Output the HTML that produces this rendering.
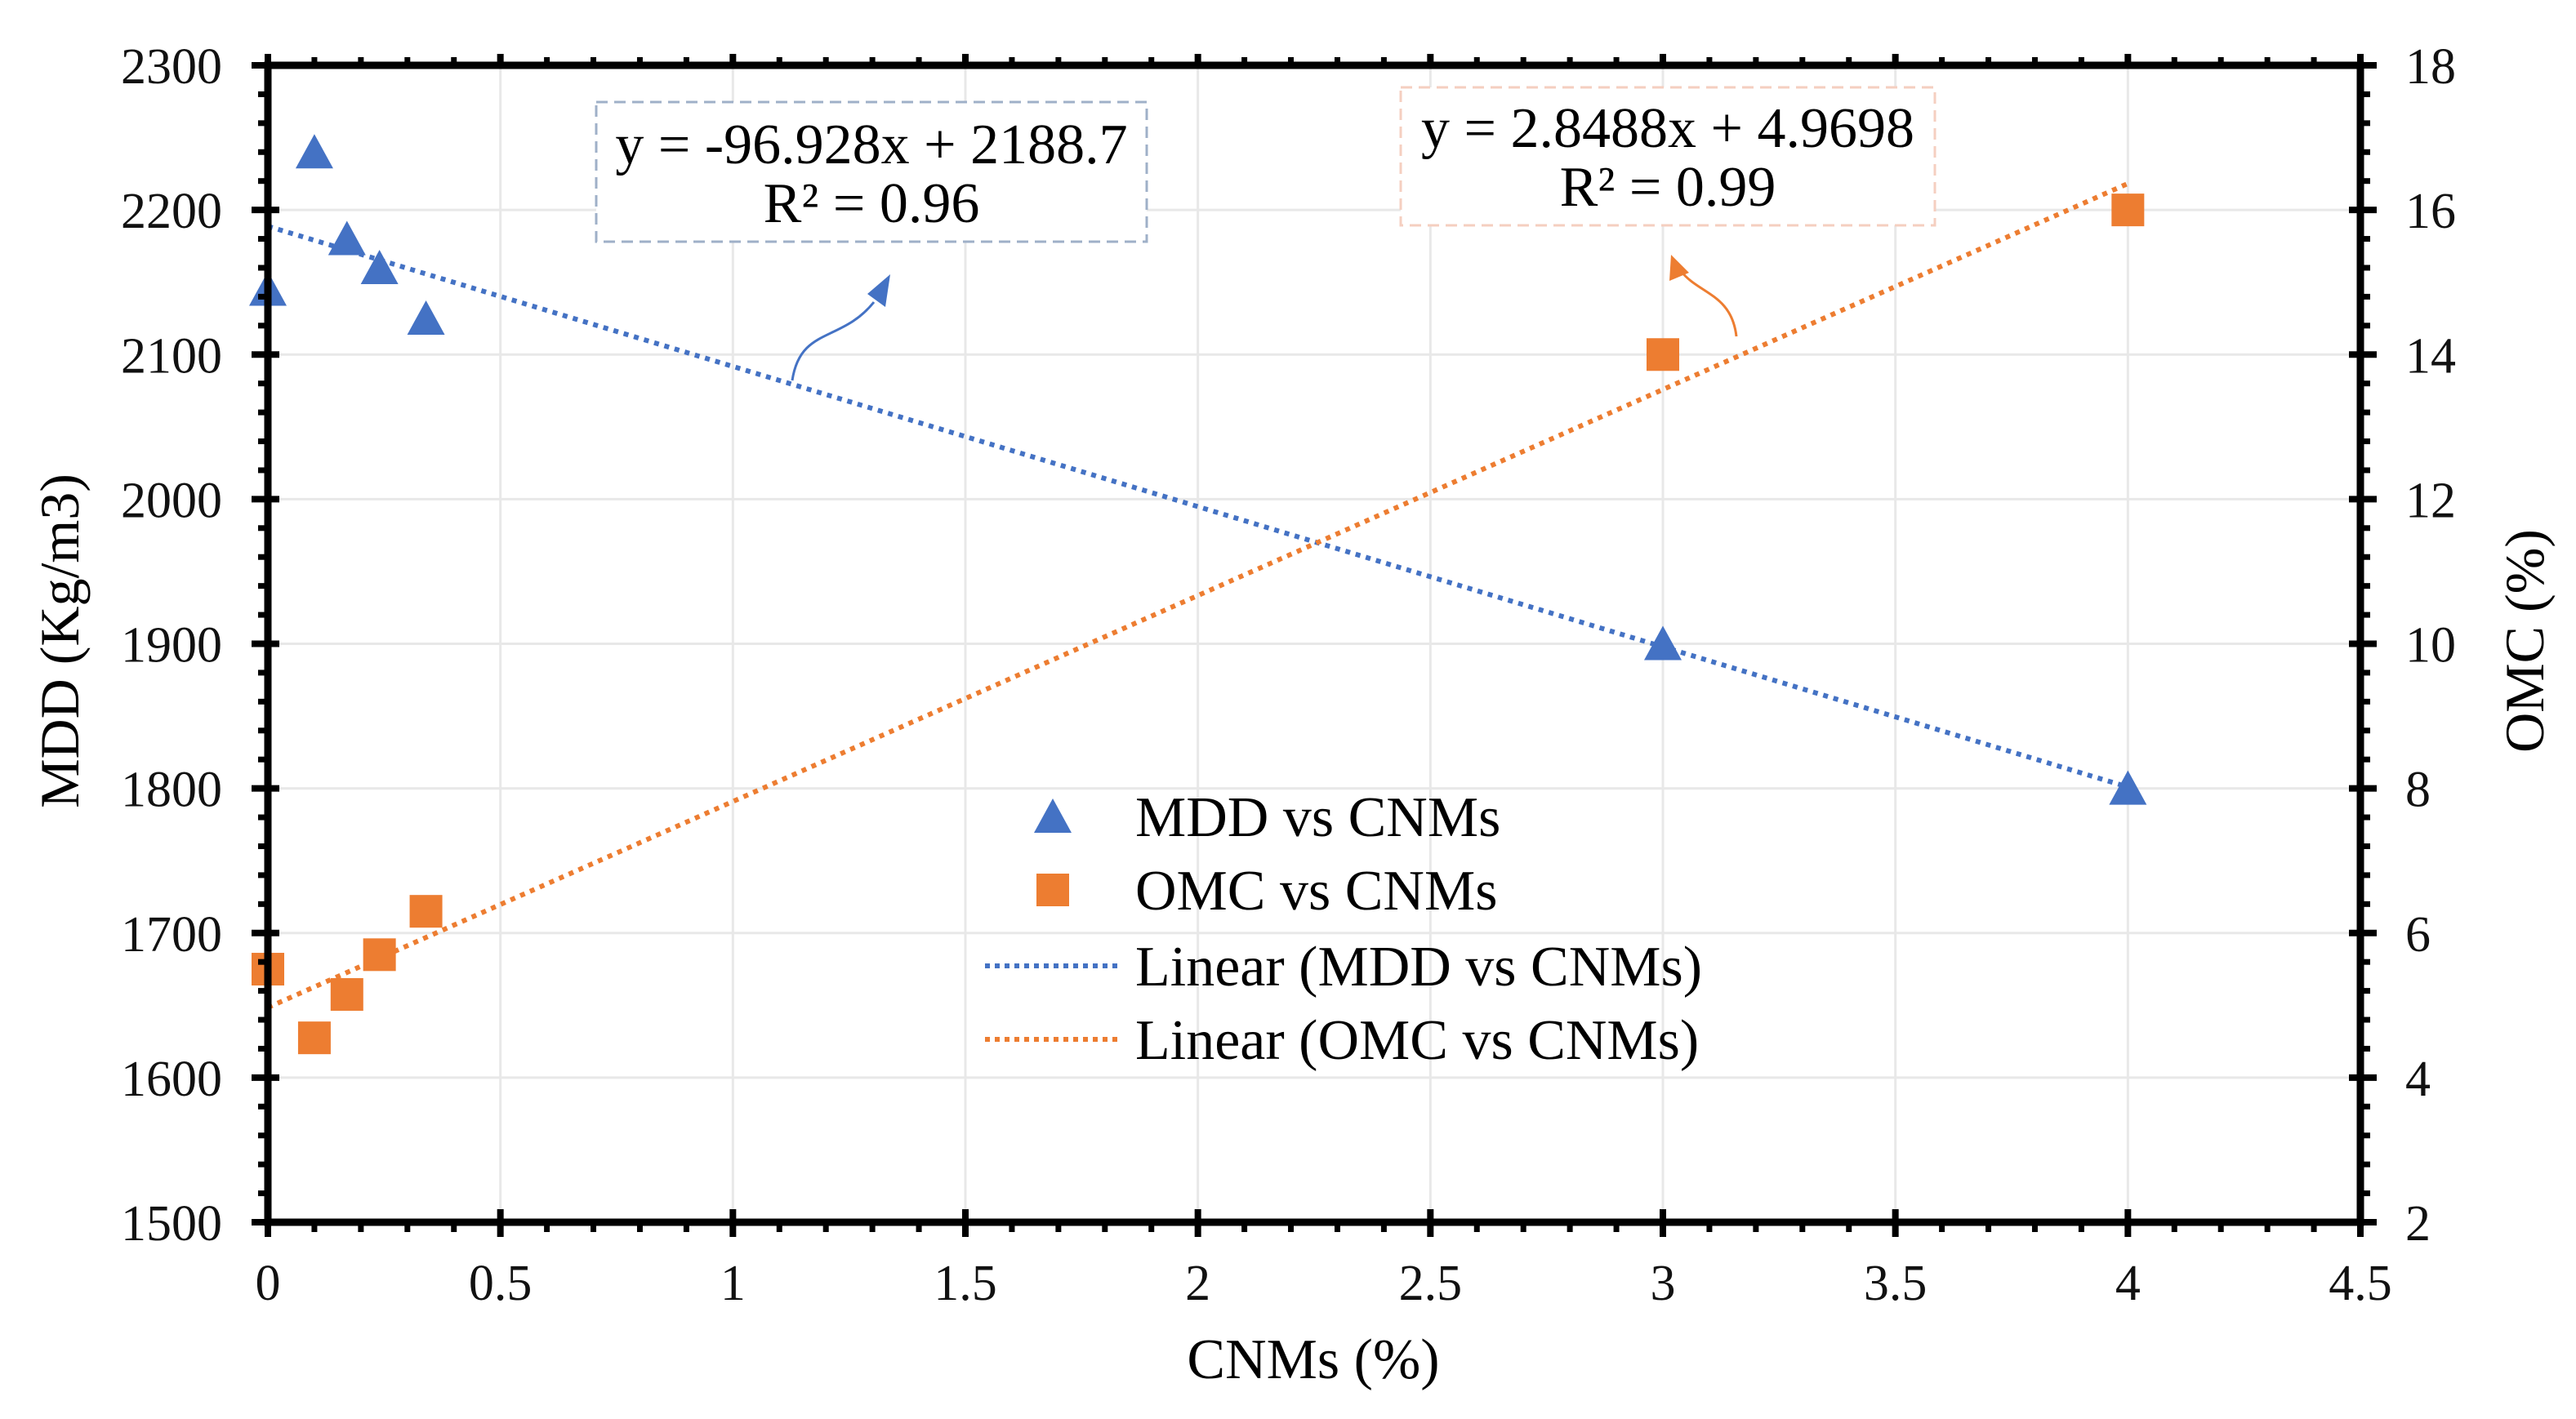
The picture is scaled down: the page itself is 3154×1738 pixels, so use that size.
<!DOCTYPE html>
<html><head><meta charset="utf-8"><style>
html,body{margin:0;padding:0;background:#fff}
svg{display:block;font-family:"Liberation Serif",serif}
</style></head><body>
<svg id="chart" width="3154" height="1738" viewBox="0 0 3154 1738" xmlns="http://www.w3.org/2000/svg">
<g id="grid"></g>
<g id="trend"></g>
<g id="marks"></g>
<g id="axes"></g>
<g id="labels" font-size="62" fill="#111"></g>
<text transform="translate(96,785) rotate(-90)" text-anchor="middle" font-size="68">MDD (Kg/m3)</text>
<text transform="translate(3114,785) rotate(-90)" text-anchor="middle" font-size="68">OMC (%)</text>
<text x="1608" y="1688" text-anchor="middle" font-size="70">CNMs (%)</text>
<g>
<rect x="730" y="125" width="674" height="171" fill="#fff" stroke="#9fb0c8" stroke-width="3" stroke-dasharray="14,8"/>
<text x="1067" y="200" text-anchor="middle" font-size="70">y = -96.928x + 2188.7</text>
<text x="1067" y="272" text-anchor="middle" font-size="70">R² = 0.96</text>
</g>
<g>
<rect x="1715" y="107" width="654" height="169" fill="#fff" stroke="#f5cfc0" stroke-width="3" stroke-dasharray="14,8"/>
<text x="2042" y="180" text-anchor="middle" font-size="70">y = 2.8488x + 4.9698</text>
<text x="2042" y="252" text-anchor="middle" font-size="70">R² = 0.99</text>
</g>
<g>
<path d="M970,466 C980,400 1030,420 1070,370" fill="none" stroke="#4472c4" stroke-width="3"/>
<polygon points="1090,336 1062,360 1084,376" fill="#4472c4"/>
</g>
<g>
<path d="M2126,412 C2120,360 2080,360 2058,332" fill="none" stroke="#ed7d31" stroke-width="3"/>
<polygon points="2046,312 2044,344 2068,334" fill="#ed7d31"/>
</g>
<g font-size="70">
<g><polygon points="1289,978 1266,1020 1312,1020" fill="#4472c4"/><text x="1390" y="1024">MDD vs CNMs</text></g>
<g><rect x="1269" y="1070" width="40" height="40" fill="#ed7d31"/><text x="1390" y="1114">OMC vs CNMs</text></g>
<g><line x1="1206" y1="1183" x2="1368" y2="1183" stroke="#4472c4" stroke-width="6" stroke-dasharray="6,6"/><text x="1390" y="1207">Linear (MDD vs CNMs)</text></g>
<g><line x1="1206" y1="1273" x2="1368" y2="1273" stroke="#ed7d31" stroke-width="6" stroke-dasharray="6,6"/><text x="1390" y="1297">Linear (OMC vs CNMs)</text></g>
</g>
</svg>
<script>
const cnm = [0, 0.1, 0.17, 0.24, 0.34, 3, 4];
const mdd = [2145, 2240, 2180, 2160, 2125, 1900, 1800];
const omc = [5.5, 4.55, 5.15, 5.7, 6.3, 14, 16];
const xTicks = ["0","0.5","1","1.5","2","2.5","3","3.5","4","4.5"];
const yTicks = ["1500","1600","1700","1800","1900","2000","2100","2200","2300"];
const y2Ticks = ["2","4","6","8","10","12","14","16","18"];
const mddFit = [-96.928, 2188.7];
const omcFit = [2.8488, 4.9698];

const X0=328, X1=2890, Y0=1497, Y1=80;
const sx = v => X0 + (v-0)/(4.5-0)*(X1-X0);
const sy = v => Y0 - (v-1500)/(2300-1500)*(Y0-Y1);
const sy2 = v => Y0 - (v-2)/(18-2)*(Y0-Y1);
const NS="http://www.w3.org/2000/svg";
function mk(tag, parent, attrs){const e=document.createElementNS(NS,tag);for(const k in attrs)e.setAttribute(k,attrs[k]);parent.appendChild(e);return e;}
const grid=document.getElementById('grid'), axes=document.getElementById('axes'), labels=document.getElementById('labels'), trend=document.getElementById('trend'), marks=document.getElementById('marks');

xTicks.forEach((t,i)=>{const v=parseFloat(t);const x=sx(v);
 const g=mk('line',grid,{x1:x,y1:Y1,x2:x,y2:Y0,stroke:'#e8e8e8','stroke-width':3});
 
 
 const tx=mk('text',labels,{x:x,y:1592,'text-anchor':'middle'});tx.textContent=t;
 
 
});
yTicks.forEach(t=>{const v=parseFloat(t);const y=sy(v);
 const g=mk('line',grid,{x1:X0,y1:y,x2:X1,y2:y,stroke:'#e8e8e8','stroke-width':3});
 
 
 const tx=mk('text',labels,{x:272,y:y+22,'text-anchor':'end'});tx.textContent=t;
 
 
});
y2Ticks.forEach(t=>{const v=parseFloat(t);const y=sy2(v);
 const tx=mk('text',labels,{x:2945,y:y+22,'text-anchor':'start'});tx.textContent=t;
 
 
});
function fitLine(fit, scale, color, name){
 const l=mk('line',trend,{x1:sx(0),y1:scale(fit[1]),x2:sx(4),y2:scale(fit[0]*4+fit[1]),stroke:color,'stroke-width':6,'stroke-dasharray':'6,7'});
 
 
}
fitLine(mddFit, sy, '#4472c4', 'mdd-trendline');
fitLine(omcFit, sy2, '#ed7d31', 'omc-trendline');
cnm.forEach((c,i)=>{
 const x=sx(c), y=sy(mdd[i]);
 const p=mk('polygon',marks,{points:`${x},${y-22} ${x-23},${y+20} ${x+23},${y+20}`,fill:'#4472c4'});
 
 
 const y2=sy2(omc[i]);
 const r=mk('rect',marks,{x:x-20,y:y2-20,width:40,height:40,fill:'#ed7d31'});
 
 
});
mk('rect',axes,{x:X0,y:Y1,width:X1-X0,height:Y0-Y1,fill:'none',stroke:'#000','stroke-width':9});
for(let k=0;k<=45;k++){const x=sx(k/10);const major=k%5===0;
 mk('line',axes,{x1:x,y1:major?Y0-16:Y0,x2:x,y2:Y0+(major?18:12),stroke:'#000','stroke-width':major?8:7});
 mk('line',axes,{x1:x,y1:Y1-(major?14:10),x2:x,y2:Y1,stroke:'#000','stroke-width':major?8:7});}
for(let k=0;k<=40;k++){const y=sy(1500+k*20);const major=k%5===0;
 mk('line',axes,{x1:X0-(major?20:12),y1:y,x2:X0+(major?14:0),y2:y,stroke:'#000','stroke-width':major?8:7});
 mk('line',axes,{x1:X1-(major?14:0),y1:y,x2:X1+(major?20:12),y2:y,stroke:'#000','stroke-width':major?8:7});}
</script>
</body></html>
